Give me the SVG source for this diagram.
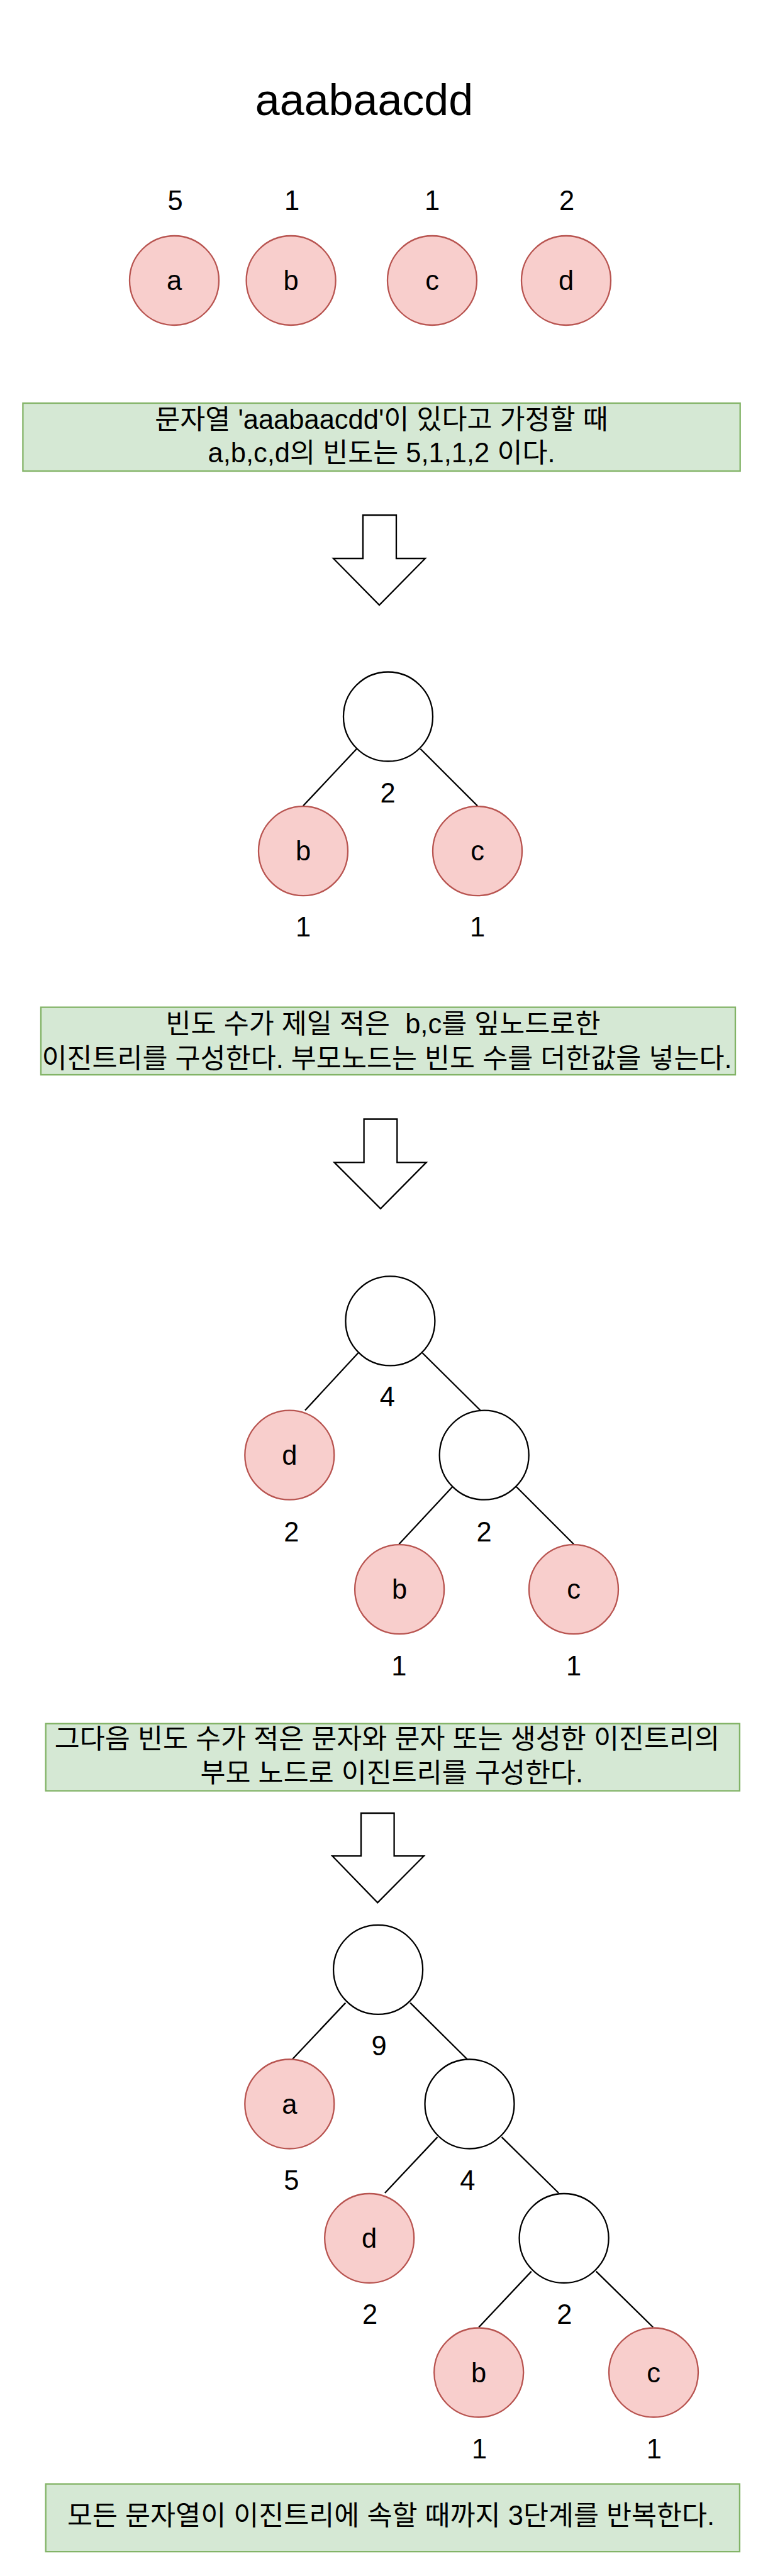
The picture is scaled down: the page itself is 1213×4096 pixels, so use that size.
<svg xmlns="http://www.w3.org/2000/svg" width="1213" height="4096" viewBox="0 0 1213 4096">
<style>
text{font-family:"Liberation Sans","Noto Sans CJK KR",sans-serif;font-size:43.5px;fill:#000;text-anchor:middle;white-space:pre}
.title{font-size:70px}
.leaf{fill:#f8cecc;stroke:#b85450;stroke-width:2.3}
.inner{fill:#fff;stroke:#000;stroke-width:2.3}
.box{fill:#d5e8d4;stroke:#82b366;stroke-width:2.3}
.arrow{fill:#fff;stroke:#000;stroke-width:2.3;stroke-linejoin:miter}
.edge{stroke:#000;stroke-width:2.3;fill:none}
</style>
<rect width="1213" height="4096" fill="#fff"/>
<g id="title"><text class="title" x="579" y="183">aaabaacdd</text></g>

<g id="step1">
<g id="s1-a"><circle class="leaf" cx="277" cy="446" r="71"/><text x="277" y="461">a</text><text x="278.5" y="334">5</text></g>
<g id="s1-b"><circle class="leaf" cx="462.6" cy="446" r="71"/><text x="462.6" y="461">b</text><text x="464" y="334">1</text></g>
<g id="s1-c"><circle class="leaf" cx="687" cy="446" r="71"/><text x="687" y="461">c</text><text x="687" y="334">1</text></g>
<g id="s1-d"><circle class="leaf" cx="900" cy="446" r="71"/><text x="900" y="461">d</text><text x="901" y="334">2</text></g>
</g>

<g id="box1"><rect class="box" x="36.4" y="641" width="1140.3" height="108"/>
<text x="606.5" y="682.3">문자열 'aaabaacdd'이 있다고 가정할 때</text>
<text x="606.5" y="735">a,b,c,d의 빈도는 5,1,1,2 이다.</text></g>

<g id="arrow1"><polygon class="arrow" points="577,819 630,819 630,888 676,888 603,962 530,888 577,888"/></g>

<g id="connectors">
<line class="edge" x1="567" y1="1190.8" x2="482" y2="1281.3"/>
<line class="edge" x1="668.4" y1="1190.8" x2="759" y2="1281.3"/>
<line class="edge" x1="569.4" y1="2151.2" x2="485" y2="2242.5"/>
<line class="edge" x1="671.5" y1="2151.2" x2="763.6" y2="2242.5"/>
<line class="edge" x1="719.4" y1="2364" x2="634.4" y2="2455.2"/>
<line class="edge" x1="820.8" y1="2364" x2="912" y2="2455.2"/>
<line class="edge" x1="549.3" y1="3184.6" x2="464.9" y2="3274.3"/>
<line class="edge" x1="652.2" y1="3184.6" x2="742.7" y2="3274.3"/>
<line class="edge" x1="695.5" y1="3398.1" x2="611.9" y2="3487"/>
<line class="edge" x1="797.6" y1="3398.1" x2="888.1" y2="3487"/>
<line class="edge" x1="844.8" y1="3611.6" x2="761.2" y2="3700.5"/>
<line class="edge" x1="947.7" y1="3611.6" x2="1038.2" y2="3700.5"/>
</g>

<g id="tree1">
<g id="t1-root"><circle class="inner" cx="617" cy="1139.5" r="71"/><text x="616.6" y="1276">2</text></g>
<g id="t1-b"><circle class="leaf" cx="482" cy="1353.2" r="71"/><text x="482" y="1368">b</text><text x="482" y="1488.6">1</text></g>
<g id="t1-c"><circle class="leaf" cx="759" cy="1353.2" r="71"/><text x="759" y="1368">c</text><text x="759" y="1488.6">1</text></g>
</g>

<g id="box2"><rect class="box" x="65" y="1601.6" width="1104" height="107.4"/>
<text x="609" y="1643.3">빈도 수가 제일 적은  b,c를 잎노드로한</text>
<text x="615" y="1697.5">이진트리를 구성한다. 부모노드는 빈도 수를 더한값을 넣는다.</text></g>

<g id="arrow2"><polygon class="arrow" points="578.6,1779.5 631.3,1779.5 631.3,1848.4 677.7,1848.4 605,1921.8 531.5,1848.4 578.6,1848.4"/></g>

<g id="tree2">
<g id="t2-root"><circle class="inner" cx="620.4" cy="2100.4" r="71"/><text x="615.8" y="2236.3">4</text></g>
<g id="t2-d"><circle class="leaf" cx="460.3" cy="2313.7" r="71"/><text x="460.3" y="2328.7">d</text><text x="463.4" y="2451.4">2</text></g>
<g id="t2-n2"><circle class="inner" cx="769.7" cy="2313.7" r="71"/><text x="769.7" y="2451.4">2</text></g>
<g id="t2-b"><circle class="leaf" cx="635.1" cy="2527.2" r="71"/><text x="635.1" y="2542.2">b</text><text x="634.4" y="2664">1</text></g>
<g id="t2-c"><circle class="leaf" cx="912" cy="2527.2" r="71"/><text x="912" y="2542.2">c</text><text x="912" y="2664">1</text></g>
</g>

<g id="box3"><rect class="box" x="72.7" y="2740.7" width="1103.2" height="106.8"/>
<text x="615.4" y="2780.2">그다음 빈도 수가 적은 문자와 문자 또는 생성한 이진트리의</text>
<text x="622.8" y="2834.3">부모 노드로 이진트리를 구성한다.</text></g>

<g id="arrow3"><polygon class="arrow" points="574,2883 626.6,2883 626.6,2951.2 673.8,2951.2 600.3,3025.4 528.4,2951.2 574,2951.2"/></g>

<g id="tree3">
<g id="t3-root"><circle class="inner" cx="601.1" cy="3131.9" r="71"/><text x="602.6" y="3268.1">9</text></g>
<g id="t3-a"><circle class="leaf" cx="460.3" cy="3345.5" r="71"/><text x="460.3" y="3360.5">a</text><text x="463.4" y="3481.6">5</text></g>
<g id="t3-n2"><circle class="inner" cx="746.5" cy="3345.5" r="71"/><text x="743.4" y="3481.6">4</text></g>
<g id="t3-d"><circle class="leaf" cx="587.2" cy="3559" r="71"/><text x="587.2" y="3574">d</text><text x="588" y="3695.1">2</text></g>
<g id="t3-n3"><circle class="inner" cx="896.6" cy="3559" r="71"/><text x="897.4" y="3695.1">2</text></g>
<g id="t3-b"><circle class="leaf" cx="761.2" cy="3772.5" r="71"/><text x="761.2" y="3787.5">b</text><text x="762" y="3908.6">1</text></g>
<g id="t3-c"><circle class="leaf" cx="1039" cy="3772.5" r="71"/><text x="1039" y="3787.5">c</text><text x="1039.8" y="3908.6">1</text></g>
</g>

<g id="box4"><rect class="box" x="72.7" y="3949.6" width="1103.2" height="107.6"/>
<text x="621.6" y="4014.6">모든 문자열이 이진트리에 속할 때까지 3단계를 반복한다.</text></g>
</svg>
